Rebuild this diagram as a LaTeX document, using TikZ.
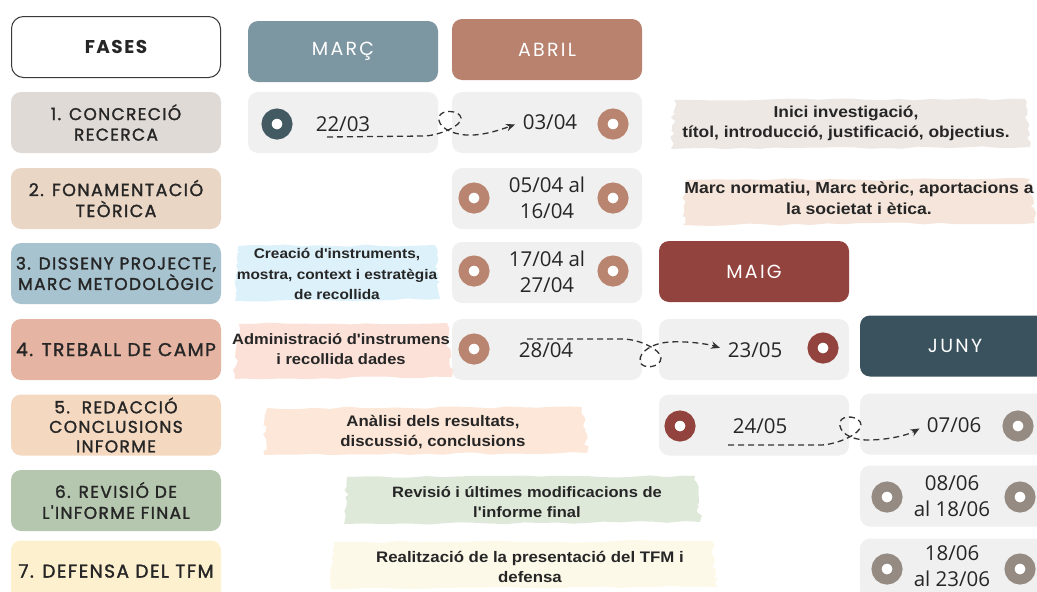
\documentclass[tikz,border=0pt]{standalone}
\usepackage{fontspec}
\usetikzlibrary{arrows.meta,decorations.pathmorphing}
\newfontfamily\popf{Poppins}[LetterSpace=8,FakeBold=1.6]
\newfontfamily\hdrf{Poppins}[LetterSpace=12]
\newfontfamily\fasf{Poppins}[LetterSpace=8]
\newfontfamily\notef{Liberation Sans}[FakeStretch=1.1]
\newfontfamily\datef{Open Sans}
\definecolor{hdrline}{HTML}{3A3A3A}
\definecolor{cmarc}{HTML}{7D97A2}
\definecolor{cabril}{HTML}{B8826F}
\definecolor{cmaig}{HTML}{93433D}
\definecolor{cjuny}{HTML}{3A525D}
\definecolor{dmarc}{HTML}{445A63}
\definecolor{dabril}{HTML}{BA8570}
\definecolor{djuny}{HTML}{958B82}
\definecolor{ph1}{HTML}{E0DAD6}
\definecolor{ph2}{HTML}{EAD6C5}
\definecolor{ph3}{HTML}{A7C3CF}
\definecolor{ph4}{HTML}{E5B4A3}
\definecolor{ph5}{HTML}{F4D8C0}
\definecolor{ph6}{HTML}{B5C7AF}
\definecolor{ph7}{HTML}{FDF0CE}
\definecolor{cellg}{HTML}{F0F0F0}
\definecolor{br1}{HTML}{EEE8E4}
\definecolor{br2}{HTML}{F5E5DA}
\definecolor{br3}{HTML}{DDF1FA}
\definecolor{br4}{HTML}{FCE1D8}
\definecolor{br5}{HTML}{FDE7D8}
\definecolor{br6}{HTML}{DFE9DA}
\definecolor{br7}{HTML}{FDF9E9}
\definecolor{arrowg}{HTML}{333333}
\definecolor{txt}{HTML}{262626}
\newcommand\nfs[2]{\notef\bfseries\fontsize{#1}{#2}\selectfont}
\tikzset{
  month/.style={rounded corners=10pt, minimum width=190pt, minimum height=61pt, inner sep=0pt,
    text=white, font=\hdrf\fontsize{19}{20}\selectfont},
  phase/.style={rounded corners=10pt, minimum width=210pt, minimum height=61pt, inner sep=0pt,
    align=center, text=txt, font=\popf\fontsize{17}{20.5}\selectfont},
  cell/.style={fill=cellg, rounded corners=10pt, minimum width=190pt, minimum height=61pt, inner sep=0pt},
  donut/.style={circle, draw=#1, line width=10pt, fill=white, minimum size=21pt, inner sep=0pt},
  datetxt/.style={font=\datef\fontsize{20.5}{25.5}\selectfont, align=center, text=txt, inner sep=1pt},
  note/.style={font=\nfs{15.3}{20.5}, align=center, text=txt, inner sep=0pt},
  edgeside/.style={decoration={random steps, segment length=16pt, amplitude=1.2pt}},
  edgeend/.style={decoration={random steps, segment length=3.5pt, amplitude=2.6pt}},
  flow/.style={draw=arrowg, line width=1.3pt, dash pattern=on 6pt off 4pt, shorten >=7pt,
    -{Stealth[length=9pt,width=7.5pt]}},
}
\newcommand\brushfill[5]{%
  \fill[#1] ({#2+6},{#3+1})
    decorate[edgeside]{-- ({#4-5},{#3})}
    decorate[edgeend]{-- ({#4},{#5-2})}
    decorate[edgeside]{-- ({#2+3},{#5})}
    decorate[edgeend]{-- ({#2+6},{#3+1})} -- cycle;}
\begin{document}
\begin{tikzpicture}[x=1pt,y=-1pt]
\useasboundingbox (0,0) rectangle (1037,592);
\clip (0,0) rectangle (1037,592);
\pgfmathsetseed{11}
% headers
\node[draw=hdrline, line width=1pt, fill=white, rounded corners=12pt, minimum width=209pt, minimum height=61pt,
  font=\fasf\bfseries\fontsize{18.5}{20}\selectfont, text=txt] (fases) at (116,47) {FASES};
\node[month, fill=cmarc] (marc) at (343,51.5) {MARÇ};
\node[month, fill=cabril] (abril) at (547,49.5) {ABRIL};
\node[month, fill=cmaig] (maig) at (754,271.5) {MAIG};
\node[month, fill=cjuny] (juny) at (955,346) {JUNY};
% phases
\node[phase, fill=ph1] (p1) at (116,122.5) {1. CONCRECIÓ\\RECERCA};
\node[phase, fill=ph2, font=\popf\fontsize{17.5}{21}\selectfont] (p2) at (116,198.5) {2. FONAMENTACIÓ\\TEÒRICA};
\node[phase, fill=ph3] (p3) at (116,273.5) {3. DISSENY PROJECTE,\\MARC METODOLÒGIC};
\node[phase, fill=ph4, font=\popf\fontsize{18.5}{21}\selectfont] (p4) at (116,349.5) {4. TREBALL DE CAMP};
\node[phase, fill=ph5, font=\popf\fontsize{17}{19.5}\selectfont] (p5) at (116,425) {5.\ \ REDACCIÓ\\CONCLUSIONS\\INFORME};
\node[phase, fill=ph6, font=\popf\fontsize{17}{21}\selectfont] (p6) at (116,500.5) {6. REVISIÓ DE\\L'INFORME FINAL};
\node[phase, fill=ph7, font=\popf\fontsize{18.5}{21}\selectfont] (p7) at (116,571) {7. DEFENSA DEL TFM};
% cells
\node[cell] (c1m) at (343,122.5) {};
\node[cell] (c1a) at (547,122.5) {};
\node[cell] (c2a) at (547,198.5) {};
\node[cell] (c3a) at (547,272.5) {};
\node[cell] (c4a) at (547,349.5) {};
\node[cell] (c4y) at (754,349.5) {};
\node[cell] (c5y) at (754,425) {};
\node[cell] (c5j) at (955,424) {};
\node[cell] (c6j) at (955,496) {};
\node[cell] (c7j) at (955,569) {};
% brushes
\brushfill{br1}{668}{99}{1030}{149}
\brushfill{br2}{680}{179}{1035}{225}
\brushfill{br3}{232}{245}{440}{301}
\brushfill{br4}{232}{323}{452}{379}
\brushfill{br5}{261}{407}{587}{455}
\brushfill{br6}{341}{476}{700}{524}
\brushfill{br7}{328}{541}{717}{589}
% notes
\node[note, font=\nfs{15.8}{20}] (n1) at (846,123) {Inici investigació,\\títol, introducció, justificació, objectius.};
\node[note, font=\nfs{16}{20.5}] (n2) at (859,198) {Marc normatiu, Marc teòric, aportacions a\\la societat i ètica.};
\node[note, font=\nfs{14}{20.5}] (n3) at (337,274) {Creació d'instruments,\\mostra, context i estratègia\\de recollida};
\node[note, font=\nfs{15}{20.5}] (n4) at (341,349) {Administració d'instrumens\\i recollida dades};
\node[note] (n5) at (433,432) {Anàlisi dels resultats,\\discussió, conclusions};
\node[note, font=\nfs{15}{20.5}] (n6) at (527,502) {Revisió i últimes modificacions de\\l'informe final};
\node[note] (n7) at (530,567) {Realització de la presentació del TFM i\\defensa};
% donuts
\node[donut=dmarc] (dn1) at (277,124) {};
\node[donut=dabril] (dn2) at (613,124) {};
\node[donut=dabril] (dn3) at (474,198) {};
\node[donut=dabril] (dn4) at (613,198) {};
\node[donut=dabril] (dn5) at (474,271) {};
\node[donut=dabril] (dn6) at (613,271) {};
\node[donut=dabril] (dn7) at (474,349) {};
\node[donut=cmaig] (dn8) at (823,348) {};
\node[donut=cmaig] (dn9) at (680,426) {};
\node[donut=djuny] (dn10) at (1018,426) {};
\node[donut=djuny] (dn11) at (887,497) {};
\node[donut=djuny] (dn12) at (1020,497) {};
\node[donut=djuny] (dn13) at (887,569) {};
\node[donut=djuny] (dn14) at (1020,569) {};
% dates
\node[datetxt] (d2203) at (343,124) {22/03};
\node[datetxt] (d0304) at (550,122) {03/04};
\node[datetxt] (d0504) at (547,198) {05/04 al\\16/04};
\node[datetxt] (d1704) at (547,272) {17/04 al\\27/04};
\node[datetxt] (d2804) at (546,350) {28/04};
\node[datetxt] (d2305) at (755,350) {23/05};
\node[datetxt] (d2405) at (760,426) {24/05};
\node[datetxt] (d0706) at (954,425) {07/06};
\node[datetxt] (d0806) at (952,496) {08/06\\al 18/06};
\node[datetxt] (d1806) at (952,566) {18/06\\al 23/06};
% connectors
\coordinate (s1) at (327,137);
\coordinate (s4) at (527,339);
\coordinate (s5) at (728,445);
\draw[flow] (s1) -- (425,136) .. controls (440,135) and (462,126) .. (461,118)
  .. controls (460,110) and (441,109) .. (439,117) .. controls (437,126) and (450,134) .. (466,135)
  .. controls (482,136) and (500,130) .. (d0304.west);
\draw[flow] (s4) -- (622,339) .. controls (640,339) and (661,350) .. (661,358)
  .. controls (661,368) and (641,370) .. (640,361) .. controls (639,352) and (652,343) .. (670,342)
  .. controls (688,341) and (708,344) .. (d2305.west);
\draw[flow] (s5) -- (822,445) .. controls (838,444) and (861,434) .. (861,425)
  .. controls (861,416) and (842,414) .. (840,422) .. controls (838,432) and (850,440) .. (868,440)
  .. controls (888,440) and (908,435) .. (d0706.west);
\end{tikzpicture}
\end{document}
